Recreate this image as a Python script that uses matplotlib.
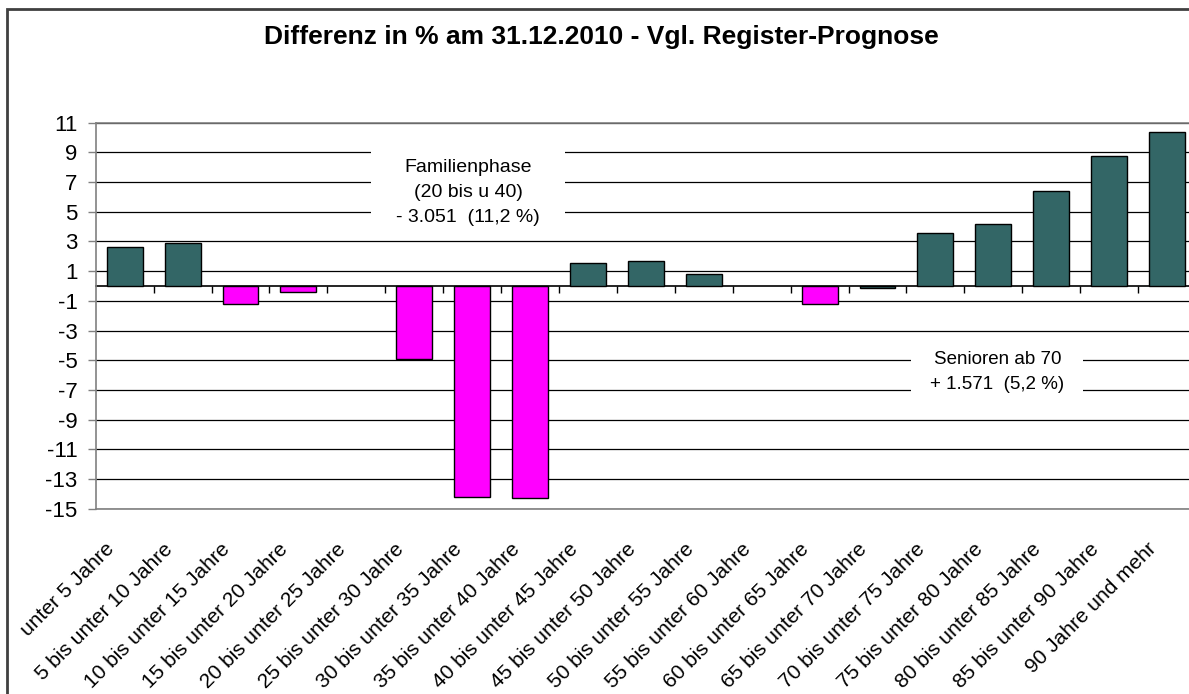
import numpy as np
import matplotlib
matplotlib.use("Agg")
import matplotlib.pyplot as plt
from matplotlib.patches import Rectangle
from matplotlib.transforms import ScaledTranslation

plt.rcParams['font.family'] = ['Liberation Sans', 'DejaVu Sans']

# age groups and difference in %
categories = ["unter 5 Jahre", "5 bis unter 10 Jahre", "10 bis unter 15 Jahre",
              "15 bis unter 20 Jahre", "20 bis unter 25 Jahre", "25 bis unter 30 Jahre",
              "30 bis unter 35 Jahre", "35 bis unter 40 Jahre", "40 bis unter 45 Jahre",
              "45 bis unter 50 Jahre", "50 bis unter 55 Jahre", "55 bis unter 60 Jahre",
              "60 bis unter 65 Jahre", "65 bis unter 70 Jahre", "70 bis unter 75 Jahre",
              "75 bis unter 80 Jahre", "80 bis unter 85 Jahre", "85 bis unter 90 Jahre",
              "90 Jahre und mehr"]
values = [2.6, 2.9, -1.2, -0.4, 0.0, -4.9, -14.2, -14.3, 1.55, 1.7, 0.8,
          0.0, -1.2, -0.12, 3.55, 4.2, 6.4, 8.75, 10.4]
teal = "#336666"
pink = "#FF00FF"
bar_colors = [teal, teal, pink, pink, pink, pink, pink, pink, teal, teal, teal,
              teal, pink, teal, teal, teal, teal, teal, teal]
yticks = np.arange(-15, 12, 2)

title = "Differenz in % am 31.12.2010 - Vgl. Register-Prognose"
note_family = "Familienphase\n(20 bis u 40)\n- 3.051  (11,2 %)"
note_senior = "Senioren ab 70\n+ 1.571  (5,2 %)"

W, H = 1189, 694
fig = plt.figure(figsize=(W / 100, H / 100), dpi=100)
ax = fig.add_axes([95.7 / W, 1 - 508.7 / H, (1196 - 95.7) / W, (508.7 - 122.7) / H])

x = np.arange(len(categories))
edges = ["black" if v != 0 else "none" for v in values]
ax.bar(x, values, width=0.62, color=bar_colors, edgecolor=edges, linewidth=1.0, zorder=3)

ax.set_xlim(-0.5, len(categories) - 0.5)
ax.set_ylim(-15, 11)
ax.set_yticks(yticks)
ax.set_yticklabels([str(v) for v in yticks])
ax.yaxis.grid(True, color="black", linewidth=0.9)
ax.set_axisbelow(True)
ax.tick_params(axis="y", length=6, width=1, color="#808080", pad=7, labelsize=16)

for side in ["left", "top", "bottom"]:
    ax.spines[side].set_color("#808080")
    ax.spines[side].set_linewidth(1.2)
ax.spines["right"].set_visible(False)

ax.set_xticks(x)
ax.set_xticklabels(categories, rotation=45, ha="right", va="top",
                   rotation_mode="anchor", fontsize=15)
ax.tick_params(axis="x", length=0, pad=22)
shift = ScaledTranslation(-0.2, 0, fig.dpi_scale_trans)
for lab in ax.get_xticklabels():
    lab.set_transform(lab.get_transform() + shift)

# category axis crossing at zero
secax = ax.secondary_xaxis(15 / 26)
secax.set_xticks(x[:-1] + 0.5)
secax.set_xticklabels([])
secax.tick_params(axis="x", direction="in", length=5, width=1, color="black")
secax.spines["top"].set_color("black")
secax.spines["top"].set_linewidth(1.2)

# annotation boxes
ax.add_patch(Rectangle((4.25, 3.6), 3.35, 6.4, facecolor="white", edgecolor="none", zorder=4))
ax.text(5.93, 6.3, note_family, ha="center", va="center", fontsize=14,
        linespacing=1.6, zorder=5)
ax.add_patch(Rectangle((13.58, -8.2), 2.97, 4.4, facecolor="white", edgecolor="none", zorder=4))
ax.text(15.07, -5.8, note_senior, ha="center", va="center", fontsize=13.5,
        linespacing=1.6, zorder=5)

fig.text(601 / W, 1 - 37 / H, title, ha="center", va="center",
         fontsize=19, fontweight="bold")

# chart frame
fig.patches.append(Rectangle((7 / W, -0.1), 1.2, 1.1 - 9 / H, transform=fig.transFigure,
                             fill=False, edgecolor="#404040", linewidth=2))

fig.savefig("out.png", dpi=100)
